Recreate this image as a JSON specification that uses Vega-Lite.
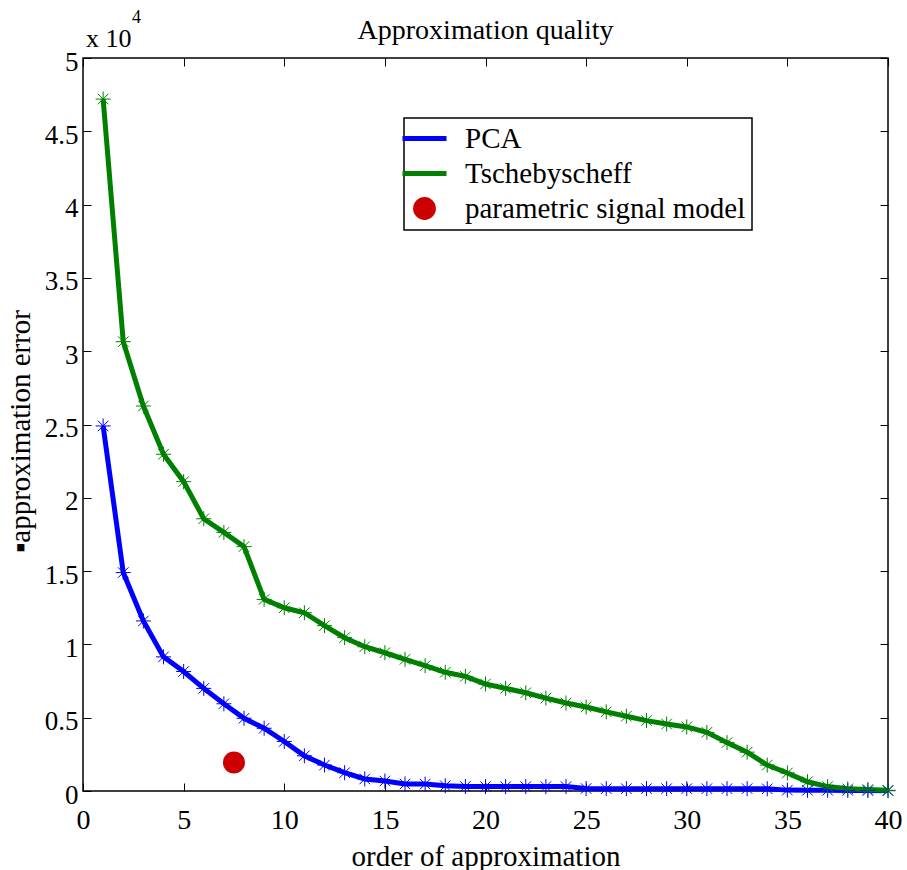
{
  "$schema": "https://vega.github.io/schema/vega-lite/v6.json",
  "width": 805,
  "height": 733,
  "autosize": "none",
  "padding": {"left": 83, "top": 58, "right": 19, "bottom": 79},
  "background": "white",
  "title": {"text": "Approximation quality", "font": "Liberation Serif", "fontSize": 28, "fontWeight": "normal", "color": "black", "anchor": "middle", "offset": 14, "dy": 50},
  "config": {
    "font": "Liberation Serif",
    "view": {"stroke": "black", "strokeWidth": 1.5},
    "legend": {"strokeWidth": 1.5}
  },
  "datasets": {
    "curves": [
      {"order": 1, "error": 24900, "method": "PCA"},
      {"order": 2, "error": 14900, "method": "PCA"},
      {"order": 3, "error": 11600, "method": "PCA"},
      {"order": 4, "error": 9150, "method": "PCA"},
      {"order": 5, "error": 8150, "method": "PCA"},
      {"order": 6, "error": 7000, "method": "PCA"},
      {"order": 7, "error": 5950, "method": "PCA"},
      {"order": 8, "error": 4960, "method": "PCA"},
      {"order": 9, "error": 4280, "method": "PCA"},
      {"order": 10, "error": 3380, "method": "PCA"},
      {"order": 11, "error": 2400, "method": "PCA"},
      {"order": 12, "error": 1770, "method": "PCA"},
      {"order": 13, "error": 1250, "method": "PCA"},
      {"order": 14, "error": 820, "method": "PCA"},
      {"order": 15, "error": 680, "method": "PCA"},
      {"order": 16, "error": 480, "method": "PCA"},
      {"order": 17, "error": 470, "method": "PCA"},
      {"order": 18, "error": 360, "method": "PCA"},
      {"order": 19, "error": 310, "method": "PCA"},
      {"order": 20, "error": 300, "method": "PCA"},
      {"order": 21, "error": 300, "method": "PCA"},
      {"order": 22, "error": 300, "method": "PCA"},
      {"order": 23, "error": 300, "method": "PCA"},
      {"order": 24, "error": 300, "method": "PCA"},
      {"order": 25, "error": 170, "method": "PCA"},
      {"order": 26, "error": 160, "method": "PCA"},
      {"order": 27, "error": 160, "method": "PCA"},
      {"order": 28, "error": 160, "method": "PCA"},
      {"order": 29, "error": 160, "method": "PCA"},
      {"order": 30, "error": 160, "method": "PCA"},
      {"order": 31, "error": 160, "method": "PCA"},
      {"order": 32, "error": 160, "method": "PCA"},
      {"order": 33, "error": 160, "method": "PCA"},
      {"order": 34, "error": 150, "method": "PCA"},
      {"order": 35, "error": 60, "method": "PCA"},
      {"order": 36, "error": 50, "method": "PCA"},
      {"order": 37, "error": 50, "method": "PCA"},
      {"order": 38, "error": 40, "method": "PCA"},
      {"order": 39, "error": 30, "method": "PCA"},
      {"order": 40, "error": 20, "method": "PCA"},
      {"order": 1, "error": 47200, "method": "Tschebyscheff"},
      {"order": 2, "error": 30650, "method": "Tschebyscheff"},
      {"order": 3, "error": 26260, "method": "Tschebyscheff"},
      {"order": 4, "error": 22970, "method": "Tschebyscheff"},
      {"order": 5, "error": 21100, "method": "Tschebyscheff"},
      {"order": 6, "error": 18570, "method": "Tschebyscheff"},
      {"order": 7, "error": 17640, "method": "Tschebyscheff"},
      {"order": 8, "error": 16670, "method": "Tschebyscheff"},
      {"order": 9, "error": 13070, "method": "Tschebyscheff"},
      {"order": 10, "error": 12500, "method": "Tschebyscheff"},
      {"order": 11, "error": 12160, "method": "Tschebyscheff"},
      {"order": 12, "error": 11280, "method": "Tschebyscheff"},
      {"order": 13, "error": 10460, "method": "Tschebyscheff"},
      {"order": 14, "error": 9840, "method": "Tschebyscheff"},
      {"order": 15, "error": 9430, "method": "Tschebyscheff"},
      {"order": 16, "error": 8980, "method": "Tschebyscheff"},
      {"order": 17, "error": 8550, "method": "Tschebyscheff"},
      {"order": 18, "error": 8100, "method": "Tschebyscheff"},
      {"order": 19, "error": 7820, "method": "Tschebyscheff"},
      {"order": 20, "error": 7300, "method": "Tschebyscheff"},
      {"order": 21, "error": 7000, "method": "Tschebyscheff"},
      {"order": 22, "error": 6700, "method": "Tschebyscheff"},
      {"order": 23, "error": 6340, "method": "Tschebyscheff"},
      {"order": 24, "error": 6000, "method": "Tschebyscheff"},
      {"order": 25, "error": 5730, "method": "Tschebyscheff"},
      {"order": 26, "error": 5400, "method": "Tschebyscheff"},
      {"order": 27, "error": 5100, "method": "Tschebyscheff"},
      {"order": 28, "error": 4800, "method": "Tschebyscheff"},
      {"order": 29, "error": 4570, "method": "Tschebyscheff"},
      {"order": 30, "error": 4370, "method": "Tschebyscheff"},
      {"order": 31, "error": 4000, "method": "Tschebyscheff"},
      {"order": 32, "error": 3300, "method": "Tschebyscheff"},
      {"order": 33, "error": 2650, "method": "Tschebyscheff"},
      {"order": 34, "error": 1770, "method": "Tschebyscheff"},
      {"order": 35, "error": 1230, "method": "Tschebyscheff"},
      {"order": 36, "error": 630, "method": "Tschebyscheff"},
      {"order": 37, "error": 300, "method": "Tschebyscheff"},
      {"order": 38, "error": 150, "method": "Tschebyscheff"},
      {"order": 39, "error": 100, "method": "Tschebyscheff"},
      {"order": 40, "error": 50, "method": "Tschebyscheff"}
    ],
    "model": [
      {"order": 7.5, "error": 1950, "method": "parametric signal model"}
    ],
    "scaleNote": [
      {"base": "x 10", "power": "4", "order": 0, "error": 50000}
    ]
  },
  "layer": [
    {
      "data": {"name": "curves"},
      "mark": {"type": "line", "strokeWidth": 5, "clip": false},
      "encoding": {
        "x": {"field": "order", "type": "quantitative", "scale": {"domain": [0, 40], "nice": false, "zero": false},
          "axis": {"orient": "bottom", "values": [0, 5, 10, 15, 20, 25, 30, 35, 40], "grid": false, "domain": false, "tickColor": "black", "tickSize": -8, "labelFlush": false, "labelPadding": 23, "labelFont": "Liberation Serif", "labelFontSize": 28, "labelColor": "black", "title": "order of approximation", "titleFont": "Liberation Serif", "titleFontSize": 29, "titleFontWeight": "normal", "titleColor": "black", "titlePadding": 8}},
        "y": {"field": "error", "type": "quantitative", "scale": {"domain": [0, 50000], "nice": false},
          "axis": {"orient": "left", "values": [0, 5000, 10000, 15000, 20000, 25000, 30000, 35000, 40000, 45000, 50000], "labelExpr": "'' + datum.value / 10000", "grid": false, "domain": false, "tickColor": "black", "tickSize": -8, "labelFlush": false, "labelPadding": 13, "labelOffset": 4, "labelFont": "Liberation Serif", "labelFontSize": 27, "labelColor": "black", "title": "▪approximation error", "titleFont": "Liberation Serif", "titleFontSize": 29, "titleFontWeight": "normal", "titleColor": "black", "titleX": -63, "titleY": 373, "titleAngle": -90, "titleAlign": "center", "titleBaseline": "middle"}},
        "color": {"field": "method", "type": "nominal",
          "scale": {"domain": ["PCA", "Tschebyscheff", "parametric signal model"], "range": ["#0000ff", "#008000", "#cc0000"]},
          "legend": {"orient": "none", "legendX": 321, "legendY": 60, "title": null, "strokeColor": "black", "fillColor": "white", "padding": 6, "labelFont": "Liberation Serif", "labelFontSize": 29, "labelColor": "black", "labelLimit": 0, "labelOffset": 26, "symbolSize": 1936, "rowPadding": 5,
            "encode": {"symbols": {"update": {
            "shape": {"signal": "datum.value === 'parametric signal model' ? 'circle' : 'stroke'"},
            "size": {"signal": "datum.value === 'parametric signal model' ? 520 : 1936"},
            "strokeWidth": {"signal": "datum.value === 'parametric signal model' ? 0 : 5"},
            "fill": {"signal": "datum.value === 'parametric signal model' ? '#cc0000' : 'transparent'"},
            "stroke": {"signal": "datum.value === 'PCA' ? '#0000ff' : datum.value === 'Tschebyscheff' ? '#008000' : '#cc0000'"},
            "opacity": {"value": 1}
          }}}}
        }
      }
    },
    {
      "data": {"name": "curves"},
      "mark": {"type": "point", "shape": "M-1,0L1,0M0,-1L0,1M-0.7,-0.7L0.7,0.7M-0.7,0.7L0.7,-0.7", "size": 225, "filled": false, "strokeWidth": 1, "opacity": 1, "clip": false},
      "encoding": {
        "x": {"field": "order", "type": "quantitative",
          "axis": {"orient": "top", "values": [0, 5, 10, 15, 20, 25, 30, 35, 40], "grid": false, "domain": false, "tickColor": "black", "tickSize": -8, "labels": false, "title": null}},
        "y": {"field": "error", "type": "quantitative",
          "axis": {"orient": "right", "values": [0, 5000, 10000, 15000, 20000, 25000, 30000, 35000, 40000, 45000, 50000], "grid": false, "domain": false, "tickColor": "black", "tickSize": -8, "labels": false, "title": null}},
        "color": {"field": "method", "type": "nominal", "legend": null}
      }
    },
    {
      "data": {"name": "model"},
      "mark": {"type": "point", "shape": "circle", "size": 484, "filled": true, "opacity": 1},
      "encoding": {
        "x": {"field": "order", "type": "quantitative", "axis": null},
        "y": {"field": "error", "type": "quantitative", "axis": null},
        "color": {"field": "method", "type": "nominal"}
      }
    },
    {
      "data": {"name": "scaleNote"},
      "mark": {"type": "text", "align": "left", "baseline": "alphabetic", "dx": 3, "dy": -11, "fontSize": 26, "font": "Liberation Serif", "color": "black"},
      "encoding": {
        "x": {"field": "order", "type": "quantitative", "axis": null},
        "y": {"field": "error", "type": "quantitative", "axis": null},
        "text": {"field": "base"}
      }
    },
    {
      "data": {"name": "scaleNote"},
      "mark": {"type": "text", "align": "left", "baseline": "alphabetic", "dx": 49, "dy": -35, "fontSize": 18, "font": "Liberation Serif", "color": "black"},
      "encoding": {
        "x": {"field": "order", "type": "quantitative", "axis": null},
        "y": {"field": "error", "type": "quantitative", "axis": null},
        "text": {"field": "power"}
      }
    }
  ],
  "resolve": {"axis": {"x": "independent", "y": "independent"}}
}
